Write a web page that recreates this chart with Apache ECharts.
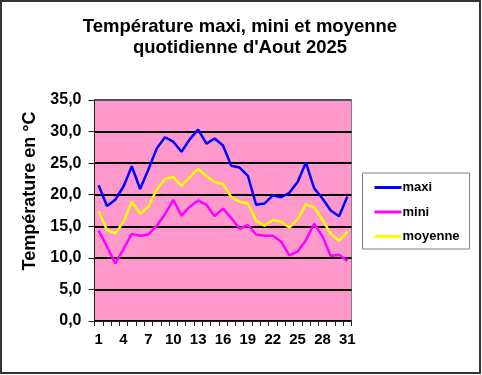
<!DOCTYPE html>
<html>
<head>
<meta charset="utf-8">
<script src="https://cdn.jsdelivr.net/npm/echarts@6/dist/echarts.min.js"></script>
<style>
html,body{margin:0;padding:0;background:#fff;}
#c{width:482px;height:375px;}
</style>
</head>
<body>
<div id="c"></div>
<script>
var days = ['1','2','3','4','5','6','7','8','9','10','11','12','13','14','15','16','17','18','19','20','21','22','23','24','25','26','27','28','29','30','31'];
var maxi = [21.5,18.2,19.2,21.3,24.5,20.9,24.0,27.3,29.1,28.4,26.8,28.8,30.3,28.1,28.9,27.8,24.6,24.3,23.0,18.4,18.6,19.9,19.6,20.3,22.0,25.1,21.0,19.4,17.5,16.6,19.7];
var mini = [14.3,11.8,9.1,11.4,13.8,13.5,13.7,15.1,16.9,19.2,16.7,18.1,19.1,18.4,16.6,17.8,16.3,14.6,15.2,13.7,13.5,13.5,12.6,10.4,11.0,12.8,15.4,13.4,10.3,10.5,9.5];
var moyenne = [17.4,14.4,13.9,15.7,18.9,17.0,18.1,20.8,22.5,22.8,21.4,22.8,24.1,22.9,22.0,21.7,19.6,18.9,18.6,15.9,15.1,16.0,15.7,14.8,16.1,18.5,18.0,16.0,13.8,12.7,14.1];
var yTicks = {min:0, max:35, interval:5};
var titleText = "Température maxi, mini et moyenne\nquotidienne d'Aout 2025";
var yName = 'Température en °C';

var font = 'Arial, "Liberation Sans", sans-serif';
var chart = echarts.init(document.getElementById('c'));
function line(name, data, color){
  return {name:name, type:'line', data:data, symbol:'none', smooth:false,
    lineStyle:{color:color, width:2.5}, itemStyle:{color:color}};
}
chart.setOption({
  animation:false,
  title:{text:titleText, left:235, top:11.5, textAlign:'center',
    textStyle:{fontFamily:font, fontWeight:'bold', fontSize:18.5, lineHeight:21, color:'#000'}},
  grid:{left:94.5, right:130.5, top:100, bottom:54, show:true, backgroundColor:'#FF99CC', borderColor:'#808080', borderWidth:1},
  legend:{orient:'vertical', left:362.5, top:173, icon:'rect', itemWidth:27, itemHeight:3, itemGap:11.5,
    padding:[8,10,6,12], backgroundColor:'#fff', borderColor:'#808080', borderWidth:1, borderRadius:0,
    textStyle:{fontFamily:font, fontWeight:'bold', fontSize:13, color:'#000', padding:[0,0,0,-4]},
    data:['maxi','mini','moyenne']},
  xAxis:{type:'category', data:days, boundaryGap:true,
    axisLine:{lineStyle:{color:'#222', width:1}},
    axisTick:{show:true, interval:0, length:5, lineStyle:{color:'#222'}},
    axisLabel:{interval:2, margin:11, fontFamily:font, fontWeight:'bold', fontSize:15, color:'#000'}},
  yAxis:{type:'value', min:yTicks.min, max:yTicks.max, interval:yTicks.interval,
    axisLine:{show:true, lineStyle:{color:'#222', width:1}},
    axisTick:{show:true, length:6, lineStyle:{color:'#222'}},
    axisLabel:{margin:13, fontFamily:font, fontWeight:'bold', fontSize:16, color:'#000',
      formatter:function(v){return v.toFixed(1).replace('.',',');}},
    splitLine:{show:true, lineStyle:{color:['#000','#000','#000','#000','#000','#000','#000','#555'], width:2}}},
  graphic:[
    {type:'text', x:30.5, y:191, rotation:Math.PI/2,
      style:{text:yName, fontFamily:font, fontWeight:'bold', fontSize:18, fill:'#000', align:'center', verticalAlign:'middle'}},
    {type:'rect', shape:{x:1, y:1, width:479, height:372}, style:{fill:'none', stroke:'#333', lineWidth:2}, silent:true}
  ],
  series:[line('maxi', maxi, '#0000FF'), line('mini', mini, '#FF00FF'), line('moyenne', moyenne, '#FFFF00')]
});
</script>
</body>
</html>
